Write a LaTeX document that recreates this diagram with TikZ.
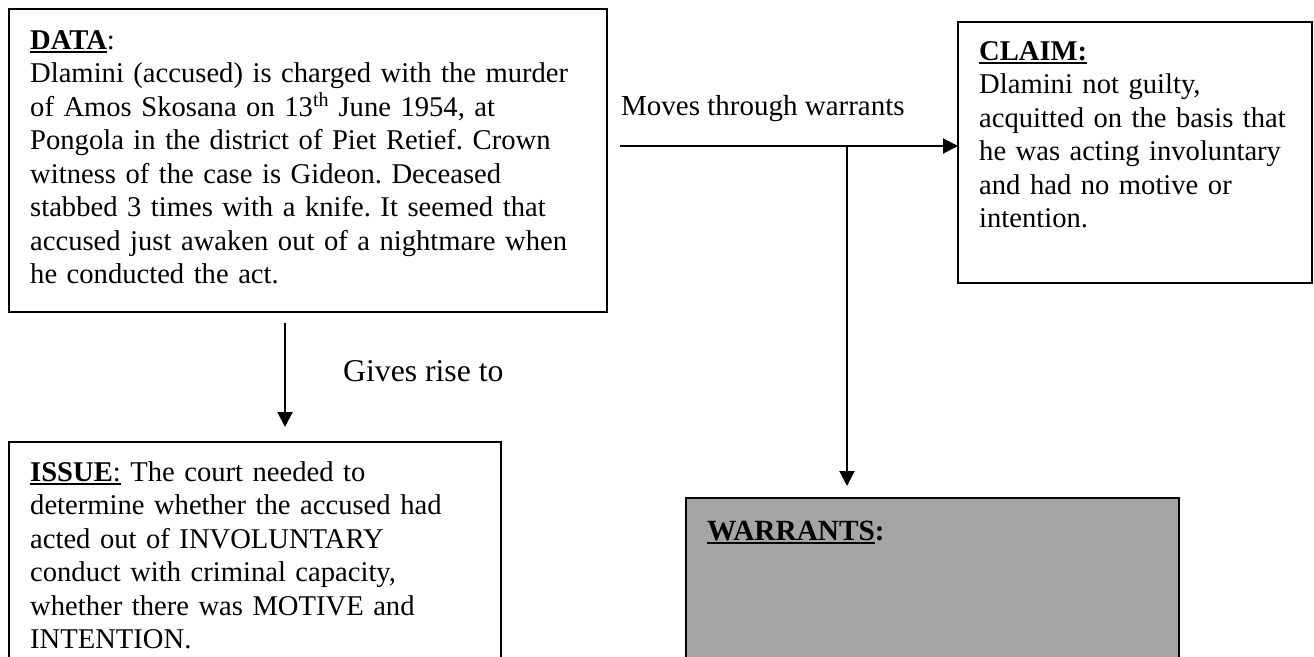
\documentclass[tikz,border=0pt]{standalone}
\usepackage{fontspec}
\setmainfont{Liberation Serif}
\usetikzlibrary{arrows.meta}
\definecolor{warrantgray}{RGB}{165,165,165}
\frenchspacing
% underline drawn as a rule below the baseline
\newcommand\undl[1]{\setbox0\hbox{#1}\rlap{\rule[-3.5pt]{\wd0}{2pt}}\box0\relax}
\begin{document}
\begin{tikzpicture}[x=1pt,y=-1pt,
  box/.style={draw=black, line width=1.8pt, inner sep=0pt, outer sep=0pt, anchor=north west},
  body/.style={anchor=base west, inner sep=0pt, text width=600pt, align=left,
    font=\fontsize{28.6}{33.5}\selectfont},
  lbl/.style={anchor=base west, inner sep=0pt, font=\fontsize{29}{33.5}\selectfont},
  arr/.style={line width=2pt, -{Triangle[length=15pt,width=15pt]}}]
\useasboundingbox (0,0) rectangle (1314,656);
\clip (0,0) rectangle (1314,656);

% boxes
\node[box, minimum width=598pt, minimum height=303pt] (data) at (9,9) {};
\node[box, minimum width=354pt, minimum height=261pt] (claim) at (958,22) {};
\node[box, minimum width=492pt, minimum height=260pt] (issue) at (9,442) {};
\node[box, fill=warrantgray, minimum width=493pt, minimum height=210pt] (warr) at (686,498) {};

% box texts
\node[body] (datatext) at (30,49) {\undl{\textbf{DATA}}:\\
Dlamini (accused) is charged with the murder\\
of Amos Skosana on 13\textsuperscript{th} June 1954, at\\
Pongola in the district of Piet Retief. Crown\\
witness of the case is Gideon. Deceased\\
stabbed 3 times with a knife. It seemed that\\
accused just awaken out of a nightmare when\\
he conducted the act.};

\node[body] (claimtext) at (979,60) {\undl{\textbf{CLAIM:}}\\
Dlamini not guilty,\\
acquitted on the basis that\\
he was acting involuntary\\
and had no motive or\\
intention.};

\node[body] (issuetext) at (30,481) {\undl{\textbf{ISSUE}:} The court needed to\\
determine whether the accused had\\
acted out of INVOLUNTARY\\
conduct with criminal capacity,\\
whether there was MOTIVE and\\
INTENTION.};

\node[body, font=\fontsize{29.3}{33.5}\selectfont] (warrtext) at (707,540) {\undl{\textbf{WARRANTS}}\textbf{:}};

% connector labels
\node[lbl] (moves) at (621,115) {Moves through warrants};
\node[lbl, font=\fontsize{31.7}{36}\selectfont] (gives) at (343,381) {Gives rise to};

% connectors
\coordinate (hstart) at (620,146);
\coordinate (branch) at (847,146);
\coordinate (givex) at (285,0);
\draw[arr] (hstart) -- (hstart -| claim.west);
\draw[arr, shorten >=12pt] (branch) -- (warr.north -| branch);
\draw[arr, shorten <=11pt, shorten >=15pt] (data.south -| givex) -- (issue.north -| givex);
\end{tikzpicture}
\end{document}
